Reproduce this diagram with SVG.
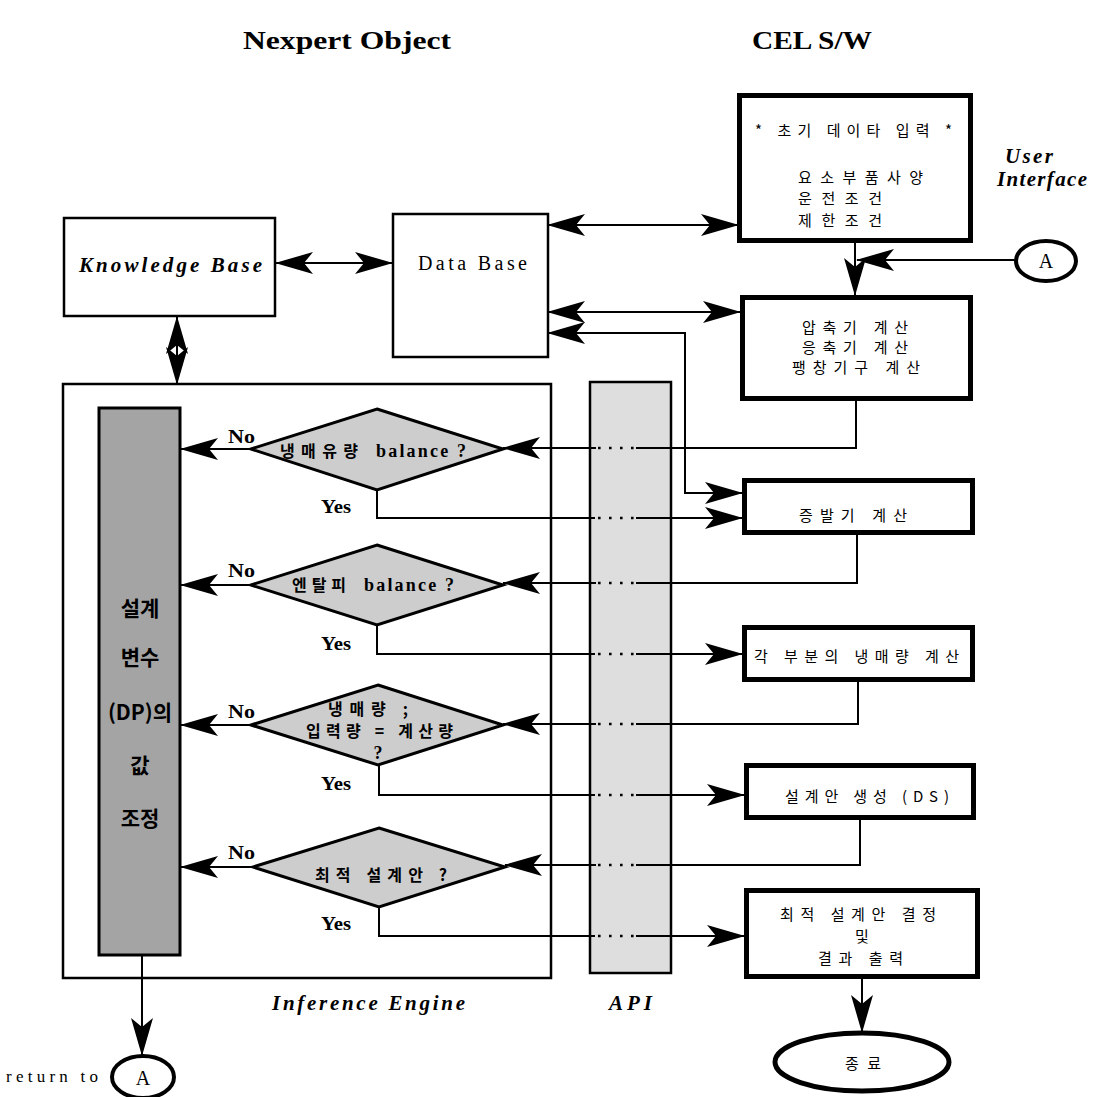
<svg xmlns="http://www.w3.org/2000/svg" width="1104" height="1097" viewBox="0 0 1104 1097">
<style>
text{font-family:"Liberation Serif","Noto Sans CJK KR",serif;fill:#000}
.kr{font-family:"Noto Sans CJK KR","Liberation Serif",sans-serif;font-size:15px}
.hd{font-size:26px;font-weight:bold}
.bi{font-weight:bold;font-style:italic;font-size:21px}
.yn{font-weight:bold;font-size:18px}
.dk{font-family:"Noto Sans CJK KR","Liberation Serif",sans-serif;font-weight:bold;font-size:16px}
.dl{font-weight:bold;font-size:18px}
.bar{font-family:"Noto Sans CJK KR","Liberation Serif",sans-serif;font-weight:bold;font-size:21px}
.ln{fill:none;stroke:#000;stroke-width:2}
.ar{marker-end:url(#ah)}
.ar2{marker-start:url(#ah);marker-end:url(#ah)}
.dot{fill:none;stroke:#000;stroke-width:2.6;stroke-dasharray:2.6 8.4}
.thk{fill:#fff;stroke:#000;stroke-width:5}
.thn{fill:#fff;stroke:#000;stroke-width:2.5}
.dia{fill:#cdcdcd;stroke:#000;stroke-width:3}
</style>
<defs>
<marker id="ah" markerUnits="userSpaceOnUse" viewBox="0 0 38 22" markerWidth="38" markerHeight="22" refX="37" refY="11" orient="auto-start-reverse">
<path d="M0,0 L38,11 L0,22 L9,11 Z" fill="#000"/>
</marker>
</defs>

<g id="headers">
<text class="hd" x="243" y="49" textLength="208" lengthAdjust="spacingAndGlyphs">Nexpert Object</text>
<text class="hd" x="752" y="49" textLength="120" lengthAdjust="spacingAndGlyphs">CEL S/W</text>
</g>

<g id="inference-engine">
<rect class="thn" x="63" y="384" width="488" height="594"/>
<text class="bi" x="272" y="1010" textLength="193" lengthAdjust="spacing">Inference Engine</text>
</g>

<g id="api">
<rect x="590" y="382" width="81" height="591" fill="#dedede" stroke="#000" stroke-width="2.5"/>
<text class="bi" x="609" y="1010" textLength="43" lengthAdjust="spacing">API</text>
</g>

<g id="knowledge-base">
<rect class="thn" x="64" y="218" width="211" height="98"/>
<text class="bi" x="79" y="272" font-size="23" textLength="183" lengthAdjust="spacing">Knowledge Base</text>
</g>

<g id="data-base">
<rect class="thn" x="393" y="214" width="155" height="143"/>
<text x="418" y="270" font-size="20" textLength="109" lengthAdjust="spacing">Data Base</text>
</g>

<g id="user-input">
<rect class="thk" x="739.5" y="95.5" width="231" height="145"/>
<text class="kr" x="755" y="136" textLength="197" lengthAdjust="spacing">* 초기 데이타 입력 *</text>
<text class="kr" x="798" y="183" textLength="125" lengthAdjust="spacing">요소부품사양</text>
<text class="kr" x="798" y="204" textLength="84" lengthAdjust="spacing">운전조건</text>
<text class="kr" x="798" y="226" textLength="84" lengthAdjust="spacing">제한조건</text>
</g>

<g id="user-interface-label">
<text class="bi" x="1005" y="163" font-size="19" textLength="48" lengthAdjust="spacing">User</text>
<text class="bi" x="997" y="186" font-size="19" textLength="90" lengthAdjust="spacing">Interface</text>
</g>

<g id="circle-a-top">
<ellipse cx="1046" cy="261" rx="30" ry="20" fill="#fff" stroke="#000" stroke-width="4"/>
<text x="1046" y="268" font-size="20" text-anchor="middle">A</text>
</g>

<g id="compute">
<rect class="thk" x="742.5" y="297.5" width="228" height="101"/>
<text class="kr" x="802" y="333" textLength="106" lengthAdjust="spacing">압축기 계산</text>
<text class="kr" x="802" y="353" textLength="106" lengthAdjust="spacing">응축기 계산</text>
<text class="kr" x="792" y="373" textLength="128" lengthAdjust="spacing">팽창기구 계산</text>
</g>

<g id="evaporator">
<rect class="thk" x="744.5" y="480.5" width="228" height="52"/>
<text class="kr" x="799" y="521" textLength="108" lengthAdjust="spacing">증발기 계산</text>
</g>

<g id="refrigerant">
<rect class="thk" x="744.5" y="627.5" width="228" height="52"/>
<text class="kr" x="754" y="662" textLength="205" lengthAdjust="spacing">각 부분의 냉매량 계산</text>
</g>

<g id="design-gen">
<rect class="thk" x="746.5" y="765.5" width="227" height="52"/>
<text class="kr" x="785" y="802" textLength="164" lengthAdjust="spacing">설계안 생성 (DS)</text>
</g>

<g id="final">
<rect class="thk" x="746.5" y="890.5" width="231" height="86"/>
<text class="kr" x="780" y="920" textLength="156" lengthAdjust="spacing">최적 설계안 결정</text>
<text class="kr" x="862" y="942" text-anchor="middle">및</text>
<text class="kr" x="818" y="964" textLength="85" lengthAdjust="spacing">결과 출력</text>
</g>

<g id="end">
<ellipse cx="862" cy="1062" rx="87" ry="29" fill="#fff" stroke="#000" stroke-width="5"/>
<text class="kr" x="845" y="1069" textLength="36" lengthAdjust="spacing">종료</text>
</g>

<g id="dp-bar">
<rect x="99" y="408" width="81" height="547" fill="#a4a4a4" stroke="#000" stroke-width="3"/>
<text class="bar" x="140" y="616" text-anchor="middle">설계</text>
<text class="bar" x="140" y="665" text-anchor="middle">변수</text>
<text class="bar" x="140" y="720" text-anchor="middle">(DP)의</text>
<text class="bar" x="140" y="773" text-anchor="middle">값</text>
<text class="bar" x="140" y="826" text-anchor="middle">조정</text>
</g>

<g id="d1">
<polygon class="dia" points="377,409 503,449 377,490 251,449"/>
<text class="dk" x="280" y="457" textLength="78" lengthAdjust="spacing">냉매유량</text>
<text class="dl" x="376" y="457" textLength="90" lengthAdjust="spacing">balance ?</text>
<text class="yn" x="228" y="443" textLength="27" lengthAdjust="spacingAndGlyphs">No</text>
<text class="yn" x="321" y="513" textLength="30" lengthAdjust="spacingAndGlyphs">Yes</text>
</g>

<g id="d2">
<polygon class="dia" points="377,545 503,585 377,625 251,585"/>
<text class="dk" x="292" y="591" textLength="54" lengthAdjust="spacing">엔탈피</text>
<text class="dl" x="364" y="591" textLength="90" lengthAdjust="spacing">balance ?</text>
<text class="yn" x="228" y="577" textLength="27" lengthAdjust="spacingAndGlyphs">No</text>
<text class="yn" x="321" y="650" textLength="30" lengthAdjust="spacingAndGlyphs">Yes</text>
</g>

<g id="d3">
<polygon class="dia" points="378,685 503,725 378,765 251,725"/>
<text class="dk" x="328" y="715" textLength="80" lengthAdjust="spacing">냉매량 ;</text>
<text class="dk" x="306" y="737" textLength="147" lengthAdjust="spacing">입력량 = 계산량</text>
<text class="dl" x="378" y="759" text-anchor="middle" font-size="12">?</text>
<text class="yn" x="228" y="718" textLength="27" lengthAdjust="spacingAndGlyphs">No</text>
<text class="yn" x="321" y="790" textLength="30" lengthAdjust="spacingAndGlyphs">Yes</text>
</g>

<g id="d4">
<polygon class="dia" points="379,828 505,867 379,907 253,867"/>
<text class="dk" x="315" y="881" textLength="132" lengthAdjust="spacing">최적 설계안 ?</text>
<text class="yn" x="228" y="859" textLength="27" lengthAdjust="spacingAndGlyphs">No</text>
<text class="yn" x="321" y="930" textLength="30" lengthAdjust="spacingAndGlyphs">Yes</text>
</g>

<g id="return-a">
<text x="6" y="1082" font-size="17" textLength="92" lengthAdjust="spacing">return to</text>
<ellipse cx="143" cy="1077" rx="31" ry="21" fill="#fff" stroke="#000" stroke-width="4"/>
<text x="143" y="1085" font-size="20" text-anchor="middle">A</text>
</g>

<g id="connectors">
<path class="ln ar2" d="M276,263 H392"/>
<path class="ln ar2" d="M177,317 V384"/>
<path class="ln ar2" d="M548,225 H738"/>
<path class="ln ar2" d="M548,312 H740"/>
<path class="ln ar2" d="M548,333 H685 V493 H742"/>
<path class="ln ar" d="M855,243 V295"/>
<path class="ln ar" d="M1016,260 H857"/>

<path class="ln" d="M856,401 V448 H636"/>
<path class="dot" d="M598,448 H634"/>
<path class="ln ar" d="M596,448 H503"/>

<path class="ln" d="M377,490 V518 H595"/>
<path class="dot" d="M598,518 H634"/>
<path class="ln ar" d="M636,518 H742"/>

<path class="ln" d="M857,535 V583 H636"/>
<path class="dot" d="M598,583 H634"/>
<path class="ln ar" d="M596,583 H503"/>

<path class="ln" d="M377,625 V654 H595"/>
<path class="dot" d="M598,654 H634"/>
<path class="ln ar" d="M636,654 H742"/>

<path class="ln" d="M858,682 V724 H636"/>
<path class="dot" d="M598,724 H634"/>
<path class="ln ar" d="M596,724 H503"/>

<path class="ln" d="M379,765 V795 H595"/>
<path class="dot" d="M598,795 H634"/>
<path class="ln ar" d="M636,795 H744"/>

<path class="ln" d="M860,820 V865 H636"/>
<path class="dot" d="M598,865 H634"/>
<path class="ln ar" d="M596,865 H505"/>

<path class="ln" d="M379,907 V936 H595"/>
<path class="dot" d="M598,936 H634"/>
<path class="ln ar" d="M636,936 H744"/>

<path class="ln ar" d="M251,449 H181"/>
<path class="ln ar" d="M251,585 H181"/>
<path class="ln ar" d="M251,725 H181"/>
<path class="ln ar" d="M253,867 H181"/>

<path class="ln ar" d="M142,955 V1055"/>
<path class="ln ar" d="M862,977 V1032"/>
</g>
</svg>
